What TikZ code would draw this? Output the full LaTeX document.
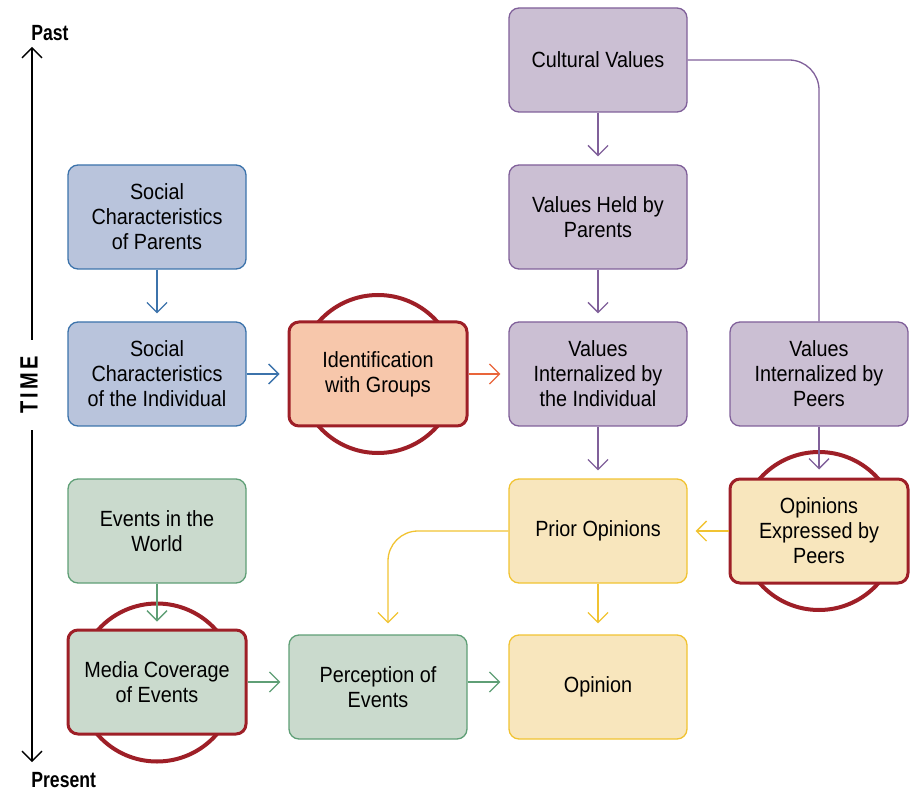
\documentclass[tikz,border=0pt]{standalone}
\usepackage{fontspec}
\setmainfont{Liberation Sans}[FakeStretch=0.9]
\newfontfamily\axisfont{Liberation Sans Bold}[FakeStretch=0.8]
\usetikzlibrary{arrows.meta,backgrounds}
\definecolor{blueF}{HTML}{B9C4DC}
\definecolor{blueD}{HTML}{3C73AB}
\definecolor{orangeF}{HTML}{F7C7AB}
\definecolor{orangeD}{HTML}{E9653A}
\definecolor{purpleF}{HTML}{CBBFD3}
\definecolor{purpleD}{HTML}{80609A}
\definecolor{yellowF}{HTML}{F8E6BD}
\definecolor{yellowD}{HTML}{F1C332}
\definecolor{greenF}{HTML}{CADACD}
\definecolor{greenD}{HTML}{5F9F76}
\definecolor{redD}{HTML}{9E1F27}
\tikzset{
  box/.style={rounded corners=5pt, minimum width=89pt, minimum height=52pt,
    inner sep=0pt, align=center, line width=0.65pt,
    font=\fontsize{11}{12.5}\selectfont},
  bluebox/.style={box, fill=blueF, draw=blueD},
  purplebox/.style={box, fill=purpleF, draw=purpleD},
  yellowbox/.style={box, fill=yellowF, draw=yellowD},
  greenbox/.style={box, fill=greenF, draw=greenD},
  redbox/.style={draw=redD, line width=1.5pt},
  ring/.style={draw=redD, line width=2pt},
  conn/.style={line width=0.65pt, -{Straight Barb[length=5pt,width=10pt]}, shorten >=4pt},
  plain/.style={line width=0.65pt},
  axislabel/.style={font=\axisfont\fontsize{11}{13}\selectfont, inner sep=0pt}
}
\begin{document}
\begin{tikzpicture}[x=0.5pt,y=-0.5pt]
\useasboundingbox (0,0) rectangle (914,790);

% boxes
\node[bluebox] (scp) at (157,217) {Social\\Characteristics\\of Parents};
\node[bluebox] (sci) at (157,374) {Social\\Characteristics\\of the Individual};
\node[box, fill=orangeF, redbox] (idg) at (378,374) {Identification\\with Groups};
\node[purplebox] (cv) at (598,60) {Cultural Values};
\node[purplebox] (vhp) at (598,217) {Values Held by\\Parents};
\node[purplebox] (vii) at (598,374) {Values\\Internalized by\\the Individual};
\node[purplebox] (vip) at (819,374) {Values\\Internalized by\\Peers};
\node[yellowbox] (po) at (598,531) {Prior Opinions};
\node[box, fill=yellowF, redbox] (oep) at (819,531) {Opinions\\Expressed by\\Peers};
\node[greenbox] (ew) at (157,531) {Events in the\\World};
\node[box, fill=greenF, redbox] (mce) at (157,682) {Media Coverage\\of Events};
\node[greenbox] (pe) at (378,687) {Perception of\\Events};
\node[yellowbox] (op) at (598,687) {Opinion};

% red rings behind highlighted boxes
\begin{scope}[on background layer]
  \draw[ring] (idg) circle (39.5pt);
  \draw[ring] (oep) circle (39.5pt);
  \draw[ring] (mce.center) ++(0,0.5) circle (39.5pt);
\end{scope}

% connectors
\draw[conn, blueD] (scp.south) -- (sci.north);
\draw[conn, blueD] (sci.east) -- (idg.west);
\draw[conn, orangeD] (idg.east) -- (vii.west);
\draw[conn, purpleD] (cv.south) -- (vhp.north);
\draw[conn, purpleD] (vhp.south) -- (vii.north);
\draw[conn, purpleD] (vii.south) -- (po.north);
\draw[plain, purpleD, rounded corners=15pt] (cv.east) -| (vip.north);
\draw[conn, purpleD] (vip.south) -- (oep.north);
\draw[conn, yellowD] (oep.west) -- (po.west -| po.east);
\draw[conn, yellowD, rounded corners=15pt, shorten >=5.5pt] (po.west) -| ([xshift=5pt]pe.north);
\draw[conn, yellowD, shorten >=5.5pt] (po.south) -- (op.north);
\draw[conn, greenD, shorten >=3.5pt] (ew.south) -- (mce.north);
\draw[conn, greenD] (mce.east) -- (mce.east -| pe.west);
\draw[conn, greenD] ([yshift=2.5pt]pe.east) -- ([yshift=2.5pt]pe.east -| op.west);

% time axis
\node[axislabel, anchor=west] (past) at (31,33) {Past};
\node[axislabel, anchor=west] (present) at (31,780) {Present};
\node[axislabel, font=\axisfont\fontsize{12.5}{14}\selectfont, rotate=90] (time) at (29,385) {T\kern1.5pt I\kern1.5pt M\kern1.5pt E};
\coordinate (ttop) at (32,47);
\coordinate (tup) at (32,340);
\coordinate (tdown) at (32,430);
\coordinate (tbot) at (32,762);
\draw[line width=0.65pt, -{Straight Barb[length=5pt,width=10pt]}] (tup) -- (ttop);
\draw[line width=0.65pt, -{Straight Barb[length=5pt,width=10pt]}] (tdown) -- (tbot);
\end{tikzpicture}
\end{document}
